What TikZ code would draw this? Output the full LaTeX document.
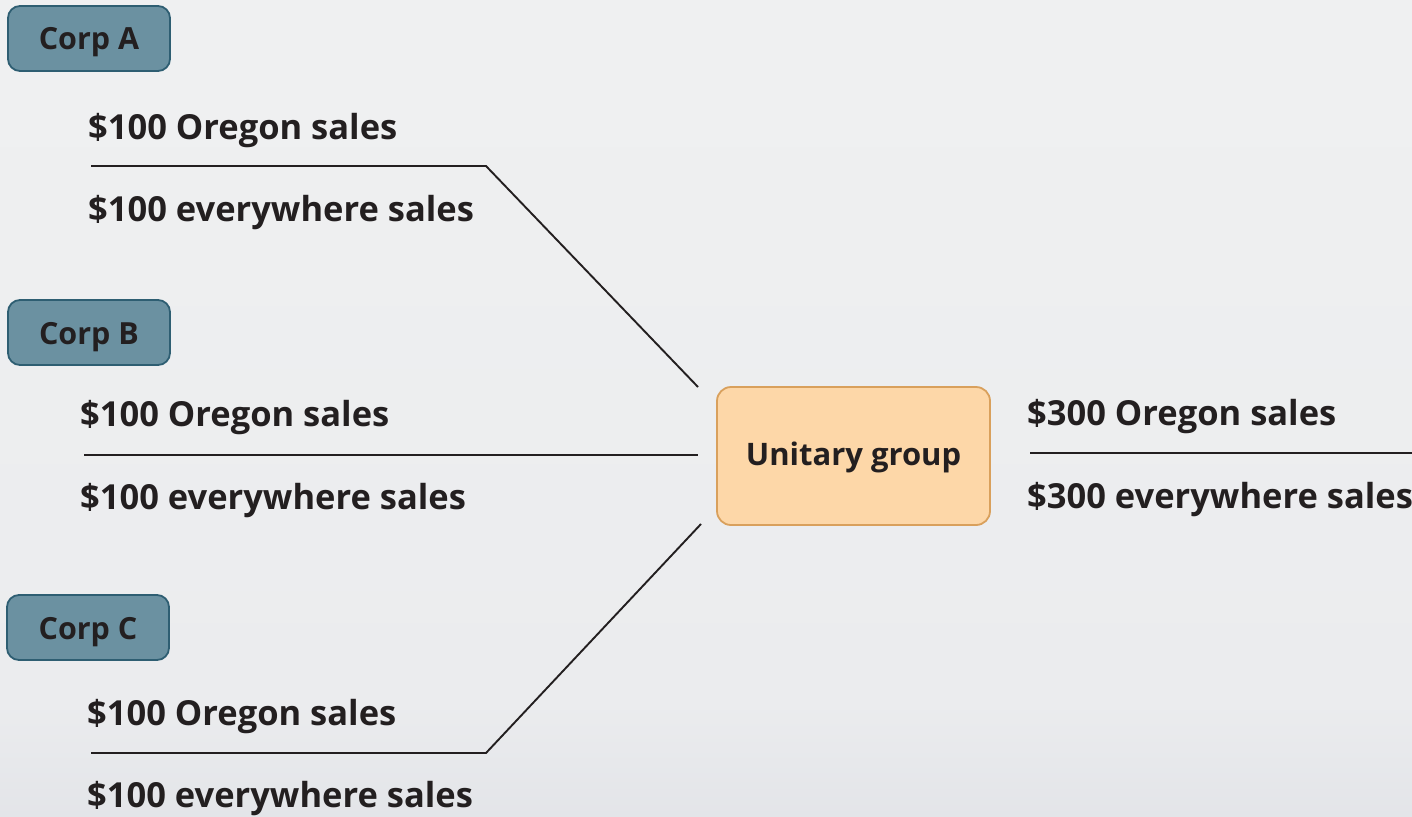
\documentclass[tikz,border=0pt]{standalone}
\usepackage{fontspec}
\setmainfont{Open Sans}
\usetikzlibrary{calc}
\definecolor{bgtop}{HTML}{F2F3F3}
\definecolor{bgmid}{HTML}{EBECEE}
\definecolor{bgbot}{HTML}{C7CBD6}
\definecolor{corpfill}{HTML}{6B91A1}
\definecolor{corpline}{HTML}{2E5E72}
\definecolor{groupfill}{HTML}{FDD7A8}
\definecolor{groupline}{HTML}{D9A05C}
\definecolor{ink}{HTML}{231F20}
\pgfdeclareverticalshading{bgshade}{100bp}{color(0bp)=(bgbot); color(32bp)=(bgmid); color(100bp)=(bgtop)}
\begin{document}
\begin{tikzpicture}[x=1pt,y=-1pt,
  corp/.style={draw=corpline,line width=1.8pt,fill=corpfill,rounded corners=12pt,
    minimum width=162pt,minimum height=65pt,inner sep=0pt,text=ink,
    text height=23pt,text depth=0pt,
    font=\fontsize{30.5}{34}\selectfont\bfseries},
  group/.style={draw=groupline,line width=1.8pt,fill=groupfill,rounded corners=14pt,
    minimum width=273pt,minimum height=138pt,inner sep=0pt,text=ink,
    text height=24pt,text depth=6pt,
    font=\fontsize{31}{34}\selectfont\bfseries},
  sales/.style={anchor=west,inner sep=0pt,text=ink,
    font=\fontsize{34.5}{38}\selectfont\bfseries},
  link/.style={draw=ink,line width=1.9pt}]
% background
\path[shading=bgshade] (0,0) rectangle (1412,816);
\useasboundingbox (0,0) rectangle (1412,816);

% corporations
\node[corp] (corpA) at (89,38.5) {Corp A};
\node[corp] (corpB) at (89,332.5) {Corp B};
\node[corp] (corpC) at (88,627.5) {Corp C};

% sales figures of each corporation
\node[sales] (aOr) at (88,131) {\$100 Oregon sales};
\node[sales] (aEv) at (88,213) {\$100 everywhere sales};
\node[sales] (bOr) at (80,418) {\$100 Oregon sales};
\node[sales] (bEv) at (80,501) {\$100 everywhere sales};
\node[sales] (cOr) at (87,717) {\$100 Oregon sales};
\node[sales] (cEv) at (87,799) {\$100 everywhere sales};

% the combined group
\node[group] (unit) at (853.5,456) {Unitary group};
\node[sales] (uOr) at (1027,417) {\$300 Oregon sales};
\node[sales] (uEv) at (1027,500) {\$300 everywhere sales};

% fraction bars and their joins
\coordinate (aL) at (91,166);
\coordinate (aK) at (486,166);
\coordinate (aE) at (698,387);
\coordinate (bL) at (84,455);
\coordinate (bE) at (698,455);
\coordinate (cL) at (91,753);
\coordinate (cK) at (486,753);
\coordinate (cE) at (701,524);
\coordinate (uL) at (1030,453);
\coordinate (uR) at (1412,453);

\draw[link] (aL) -- (aK) -- (aE);
\draw[link] (bL) -- (bE);
\draw[link] (cL) -- (cK) -- (cE);
\draw[link] (uL) -- (uR);
\end{tikzpicture}
\end{document}
